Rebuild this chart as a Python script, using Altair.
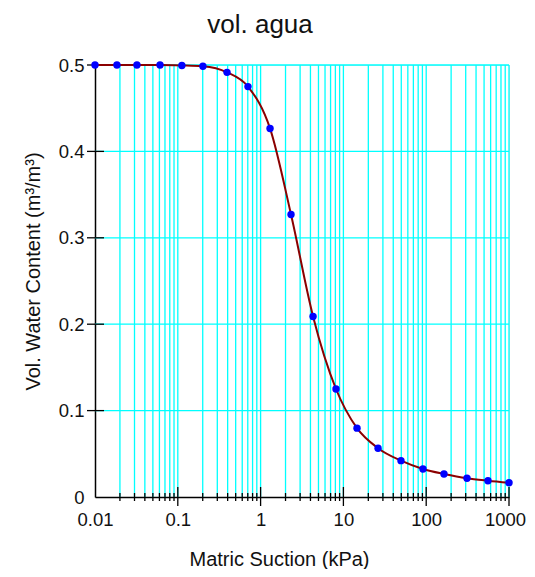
import altair as alt
import pandas as pd

# measured data (matric suction kPa, volumetric water content)
suction = [0.01, 0.0184, 0.0321, 0.061, 0.112, 0.201, 0.393, 0.704, 1.30, 2.33,
           4.30, 8.14, 14.6, 26.2, 49.6, 91.4, 164, 311, 557, 1000]
water = [0.5, 0.5, 0.5, 0.5, 0.4995, 0.4985, 0.4915, 0.475, 0.4266, 0.327,
         0.209, 0.125, 0.0797, 0.0565, 0.0421, 0.0325, 0.0267, 0.0217, 0.0189, 0.0166]

x_major = [0.1, 1, 10, 100, 1000]
x_minor = [0.02, 0.03, 0.04, 0.05, 0.06, 0.07, 0.08, 0.09,
           0.2, 0.3, 0.4, 0.5, 0.6, 0.7, 0.8, 0.9,
           2, 3, 4, 5, 6, 7, 8, 9,
           20, 30, 40, 50, 60, 70, 80, 90,
           200, 300, 400, 500, 600, 700, 800, 900]
x_labels = [0.01, 0.1, 1, 10, 100, 1000]
y_ticks = [0.1, 0.2, 0.3, 0.4, 0.5]
y_labels = [0, 0.1, 0.2, 0.3, 0.4, 0.5]
chart_title = ["vol. agua"]

W, H = 414, 432
FONT = "Liberation Sans"
CYAN = "#00FFFF"

df = pd.DataFrame({"s": suction, "w": water})
vgrid = pd.DataFrame({"s": x_minor + x_major})
hgrid = pd.DataFrame({"w": y_ticks})
xmaj = pd.DataFrame({"s": x_major})
xmin = pd.DataFrame({"s": x_minor})
tdf = pd.DataFrame({"t": chart_title})

xscale = alt.Scale(type="log", domain=[0.01, 1000], nice=False)
yscale = alt.Scale(domain=[0, 0.5], nice=False)

xaxis = alt.Axis(values=x_labels, format="~g", grid=False, ticks=False, tickSize=0,
                 labelFlush=False, labelOverlap=False,
                 labelOffset={"condition": {"test": "datum.value >= 1000", "value": -4}, "value": 0},
                 labelPadding=13, labelFont=FONT, labelFontSize=18.5, labelColor="#111",
                 domainColor="black", domainWidth=1.5,
                 title="Matric Suction (kPa)", titleFont=FONT, titleFontSize=20,
                 titleFontWeight="normal", titleColor="#111",
                 titleX=184, titleY=68, titleBaseline="alphabetic", titleAnchor="middle")
yaxis = alt.Axis(values=y_labels, format="~g", grid=False, ticks=False, tickSize=0,
                 labelFlush=False, labelOverlap=False,
                 labelPadding=11, labelFont=FONT, labelFontSize=18.5, labelColor="#111",
                 domainColor="black", domainWidth=1.5,
                 title="Vol. Water Content (m³/m³)", titleFont=FONT, titleFontSize=20,
                 titleFontWeight="normal", titleColor="#111",
                 titleX=-56, titleY=206, titleAngle=-90, titleBaseline="alphabetic",
                 titleAlign="center")

vg = alt.Chart(vgrid).mark_rule(color=CYAN, strokeWidth=1.3).encode(
    x=alt.X("s:Q", scale=xscale, axis=xaxis), y=alt.value(0), y2=alt.value(H))
hg = alt.Chart(hgrid).mark_rule(color=CYAN, strokeWidth=1.3).encode(
    y=alt.Y("w:Q", scale=yscale, axis=yaxis), x=alt.value(0), x2=alt.value(W))
xt_maj = alt.Chart(xmaj).mark_rule(color="black", strokeWidth=1.3).encode(
    x=alt.X("s:Q", scale=xscale), y=alt.value(H - 10), y2=alt.value(H + 9))
xt_min = alt.Chart(xmin).mark_rule(color="black", strokeWidth=1.3).encode(
    x=alt.X("s:Q", scale=xscale), y=alt.value(H - 4), y2=alt.value(H + 4))
yt = alt.Chart(hgrid).mark_rule(color="black", strokeWidth=1.3).encode(
    y=alt.Y("w:Q", scale=yscale), x=alt.value(-8), x2=alt.value(9))
line = alt.Chart(df).mark_line(color="#8B0000", strokeWidth=2, interpolate="monotone").encode(
    x=alt.X("s:Q", scale=xscale), y=alt.Y("w:Q", scale=yscale))
pts = alt.Chart(df).mark_circle(color="#0000FF", opacity=1, size=55).encode(
    x=alt.X("s:Q", scale=xscale), y=alt.Y("w:Q", scale=yscale))
title = alt.Chart(tdf).mark_text(font=FONT, fontSize=26, color="#111", align="center",
                                 baseline="alphabetic").encode(
    text="t:N", x=alt.value(165), y=alt.value(-32))

chart = alt.layer(vg, hg, xt_maj, xt_min, yt, line, pts, title).properties(
    width=W, height=H,
    padding={"left": 87, "top": 57, "right": 18, "bottom": 72},
    autosize="none",
).configure_view(stroke=None).configure(background="white")

chart.save("out.html", embed_options={"renderer": "svg", "actions": False})
